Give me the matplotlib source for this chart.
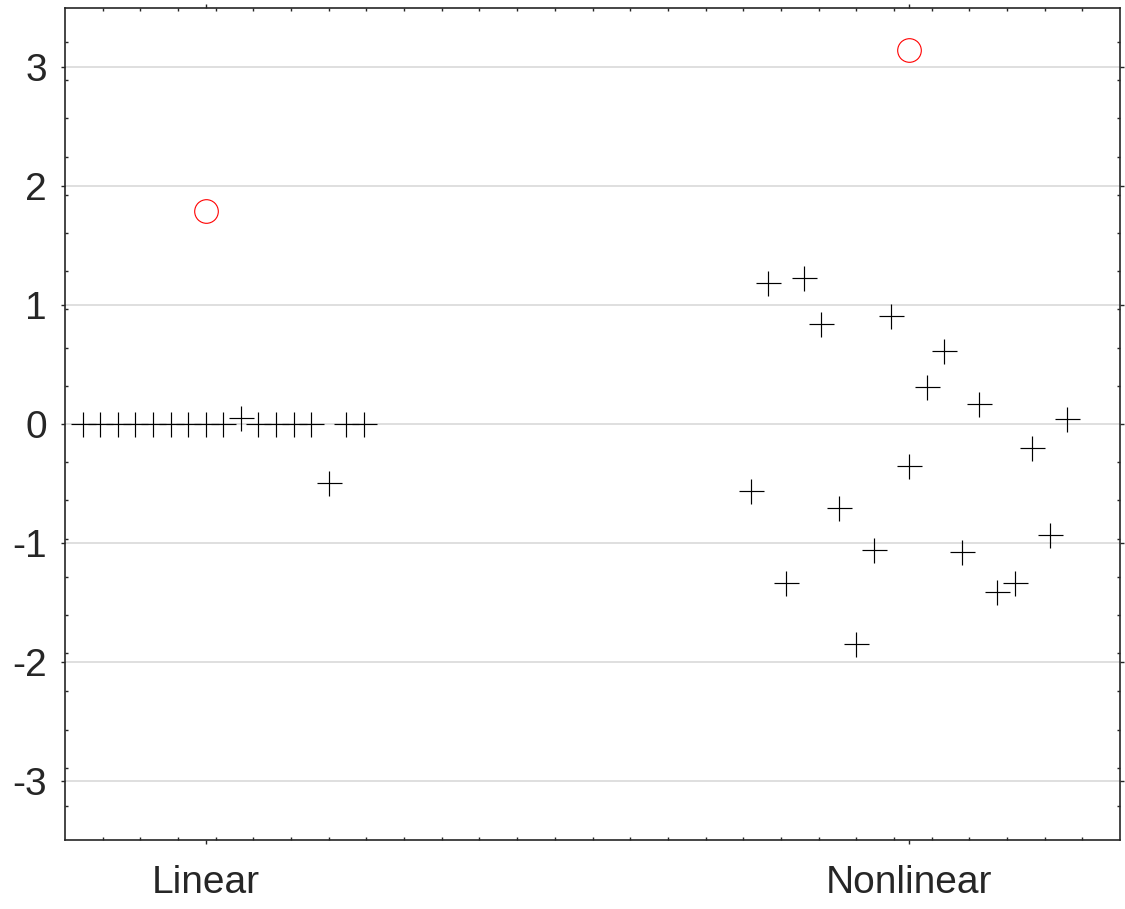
"""
Scatter of per-item values for linear vs nonlinear, with red circle markers
"""
import matplotlib.pyplot as plt
import numpy as np

plt.rcParams['font.family'] = ['Liberation Sans', 'DejaVu Sans']

groups = ['Linear', 'Nonlinear']
group_pos = [1, 2]

# values
linear_vals = [0, 0, 0, 0, 0, 0, 0, 0, 0, 0.05, 0, 0, 0, 0, -0.5, 0, 0]
nonlinear_vals = [-0.56, 1.19, -1.34, 1.23, 0.84, -0.71, -1.85, -1.06, 0.91,
                  -0.35, 0.31, 0.61, -1.08, 0.17, -1.41, -1.34, -0.20, -0.93,
                  0.04]
circle_vals = [1.79, 3.15]

# horizontal spread of the points inside each group
linear_off = np.arange(-7, 10) * 0.025
nonlinear_off = np.arange(-9, 10) * 0.025

dark = '#262626'
fig = plt.figure(figsize=(11.25, 9.09), dpi=100)
ax = fig.add_axes([0.0578, 0.0759, 0.9378, 0.9153])

ax.plot(group_pos[0] + linear_off, linear_vals, '+', color='black',
        ms=18, mew=0.85, linestyle='none', zorder=3)
ax.plot(group_pos[1] + nonlinear_off, nonlinear_vals, '+', color='black',
        ms=18, mew=0.85, linestyle='none', zorder=3)
ax.plot(group_pos, circle_vals, 'o', mfc='none', mec='red', ms=17,
        mew=0.8, linestyle='none', zorder=3)

ax.set_xlim(0.8, 2.3)
ax.set_ylim(-3.5, 3.5)
ax.set_xticks(group_pos)
ax.set_xticklabels(groups)
ax.set_yticks(np.arange(-3, 4))
ax.set_yticklabels([str(v) for v in range(-3, 4)])
ax.set_xticks(0.8 + np.arange(1, 28) * 1.5 / 28, minor=True)
ax.set_yticks(np.arange(-10, 11) * 9 / 28, minor=True)

ax.yaxis.grid(True, color='#dcdcdc', linewidth=1.3, zorder=0)
ax.set_axisbelow(True)

ax.tick_params(which='major', direction='out', length=3, width=1,
               color=dark, labelcolor=dark, labelsize=28,
               top=True, right=True)
ax.tick_params(axis='y', which='major', pad=10)
ax.tick_params(axis='x', which='major', pad=15)
ax.tick_params(which='minor', direction='in', length=2.5, width=1,
               color=dark, top=True, right=True)
for s in ax.spines.values():
    s.set_color(dark)
    s.set_linewidth(1.2)

plt.savefig('out.png', dpi=100)
